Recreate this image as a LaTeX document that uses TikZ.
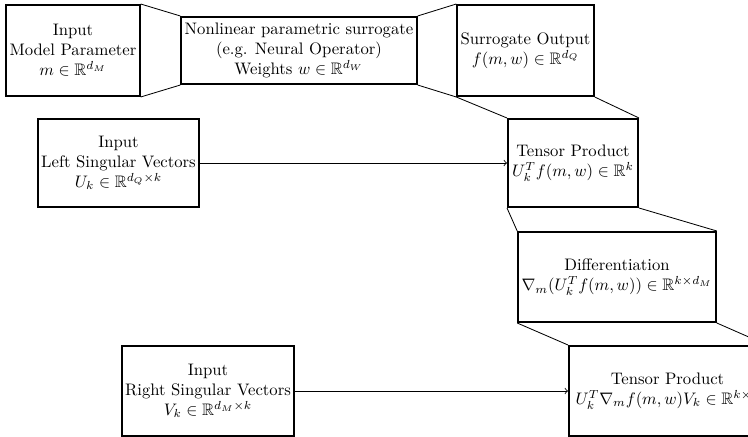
\documentclass[tikz,border=0pt]{standalone}
\usepackage{amsmath, amssymb}
\usetikzlibrary{
  calc,%
  arrows,
  positioning
}
\tikzset{>=to}
\tikzset{font=\normalsize}
\tikzset{block/.style={draw, very thick, align=center, inner sep=2pt},
  funnel/.style={semithin}}
\tikzset{semithin/.style={line width=0.5pt}}

\begin{document}
\begin{tikzpicture}[x=0.6pt, y=-0.6pt]
      \useasboundingbox (0, 0) rectangle (748, 437); %
      % top row: parameter -> surrogate -> output
      \node[block, minimum width=79.2pt, minimum height=54.6pt] (param) at (73, 50.5)
        {Input\\Model Parameter\\$m \in \mathbb{R}^{d_M}$};
      \node[block, minimum width=136.8pt, minimum height=40.2pt] (surr) at (299, 50.5)
        {Nonlinear parametric surrogate\\(e.g. Neural Operator)\\Weights $w \in \mathbb{R}^{d_W}$};
      \node[block, minimum width=81pt, minimum height=54.6pt] (out) at (525.5, 50.5)
        {Surrogate Output\\$f(m, w) \in \mathbb{R}^{d_Q}$};
      % left singular vectors
      \node[block, minimum width=96.6pt, minimum height=52.8pt] (left) at (118.5, 163)
        {Input\\Left Singular Vectors\\$U_k \in \mathbb{R}^{d_Q \times k}$};
      \node[block, minimum width=78pt, minimum height=52.8pt] (prodA) at (573, 163)
        {Tensor Product\\$U_k^T f(m, w) \in \mathbb{R}^{k}$};
      \node[block, minimum width=116.4pt, minimum height=54pt] (diff) at (617, 277)
        {Differentiation\\$\nabla_m (U_k^T f(m, w)) \in \mathbb{R}^{k \times d_M}$};
      % right singular vectors
      \node[block, minimum width=102pt, minimum height=54pt] (right) at (208, 391)
        {Input\\Right Singular Vectors\\$V_k \in \mathbb{R}^{d_M \times k}$};
      \node[block, minimum width=118.2pt, minimum height=54pt] (prodB) at (667.5, 391)
        {Tensor Product\\$U_k^T \nabla_m f(m, w) V_k \in \mathbb{R}^{k \times k}$};
      % funnels between stages
      \draw[funnel] (param.north east) -- (surr.north west); %
      \draw[funnel] (param.south east) -- (surr.south west); %
      \draw[funnel] (surr.north east) -- (out.north west); %
      \draw[funnel] (surr.south east) -- (out.south west); %
      \draw[funnel] (out.south west) -- (prodA.north west); %
      \draw[funnel] (out.south east) -- (prodA.north east); %
      \draw[funnel] (prodA.south west) -- (diff.north west); %
      \draw[funnel] (prodA.south east) -- (diff.north east); %
      \draw[funnel] (diff.south west) -- (prodB.north west); %
      \draw[funnel] (diff.south east) -- (prodB.north east); %
      % inputs
      \draw[->, semithin] (left) -- (prodA); %
      \draw[->, semithin] (right) -- (prodB); %
    \end{tikzpicture}
\end{document}
